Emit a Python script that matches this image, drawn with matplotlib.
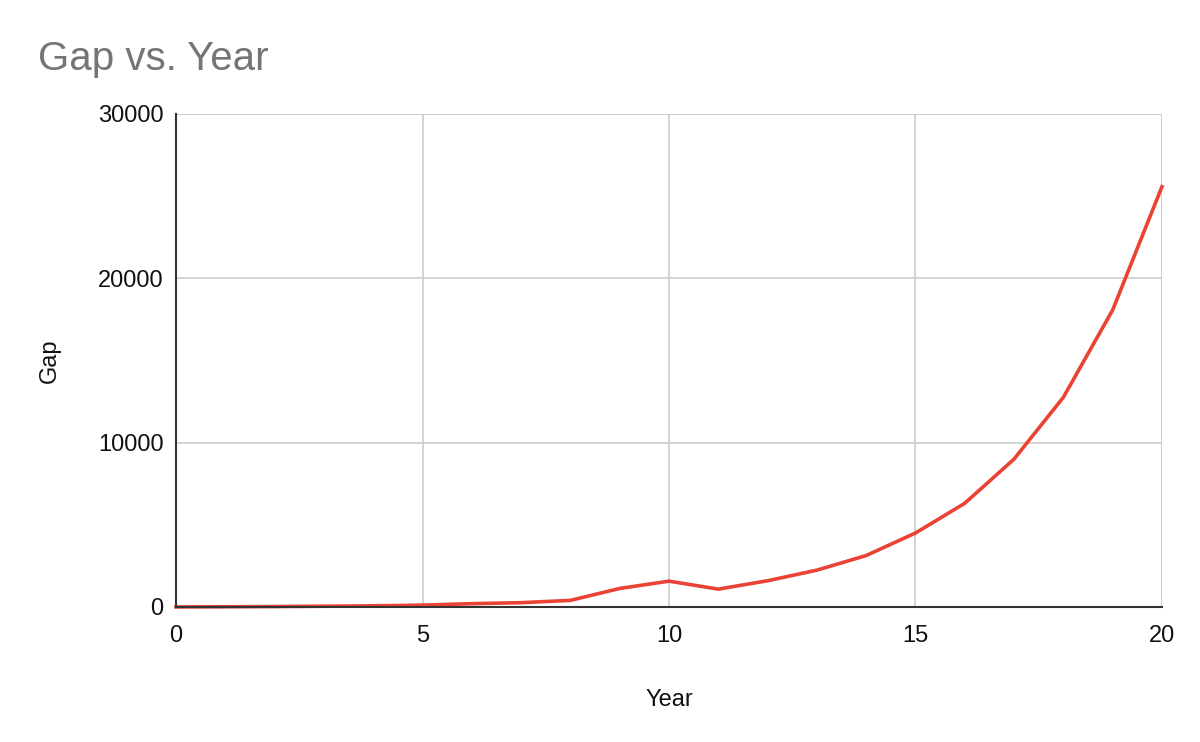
import numpy as np
import matplotlib.pyplot as plt

# values
year = [0, 1, 2, 3, 4, 5, 6, 7, 8, 9, 10, 11, 12, 13, 14, 15, 16, 17, 18, 19, 20]
gap = [0, 10, 25, 45, 70, 110, 200, 260, 400, 1125, 1570, 1085, 1595, 2240, 3130,
       4500, 6310, 9000, 12760, 18070, 25575]

plt.rcParams['font.family'] = ['Liberation Sans', 'DejaVu Sans']

fig = plt.figure(figsize=(12, 7.42), dpi=100)
ax = fig.add_axes([0.1467, 0.182, 0.8216, 0.6644])

ax.plot(year, gap, color='#ea4335', linewidth=2.6, solid_joinstyle='round', clip_on=False, zorder=3)

ax.set_xlim(0, 20)
ax.set_ylim(0, 30000)
ax.set_xticks([0, 5, 10, 15, 20])
ax.set_yticks([0, 10000, 20000, 30000])
ax.grid(True, color='#cccccc', linewidth=1.2)
ax.set_axisbelow(True)

for s in ['top', 'right']:
    ax.spines[s].set_visible(False)
ax.spines['left'].set_color('#333333')
ax.spines['bottom'].set_color('#333333')
ax.spines['left'].set_linewidth(1.5)
ax.spines['bottom'].set_linewidth(1.5)
ax.spines['left'].set_zorder(4)
ax.spines['bottom'].set_zorder(4)

# top and right grid edges
ax.axhline(30000, color='#cccccc', linewidth=1.2, zorder=1)
ax.axvline(20, color='#cccccc', linewidth=1.2, zorder=1)

ax.tick_params(length=0, labelsize=17, colors='#111111', pad=9)
ax.tick_params(axis='x', pad=13)

ax.set_xlabel('Year', fontsize=17, color='#111111', labelpad=30)
ax.set_ylabel('Gap', fontsize=17, color='#111111', labelpad=27)

fig.text(0.032, 0.905, 'Gap vs. Year', fontsize=29, color='#757575', ha='left', va='baseline')

fig.savefig('out.png', dpi=100)
